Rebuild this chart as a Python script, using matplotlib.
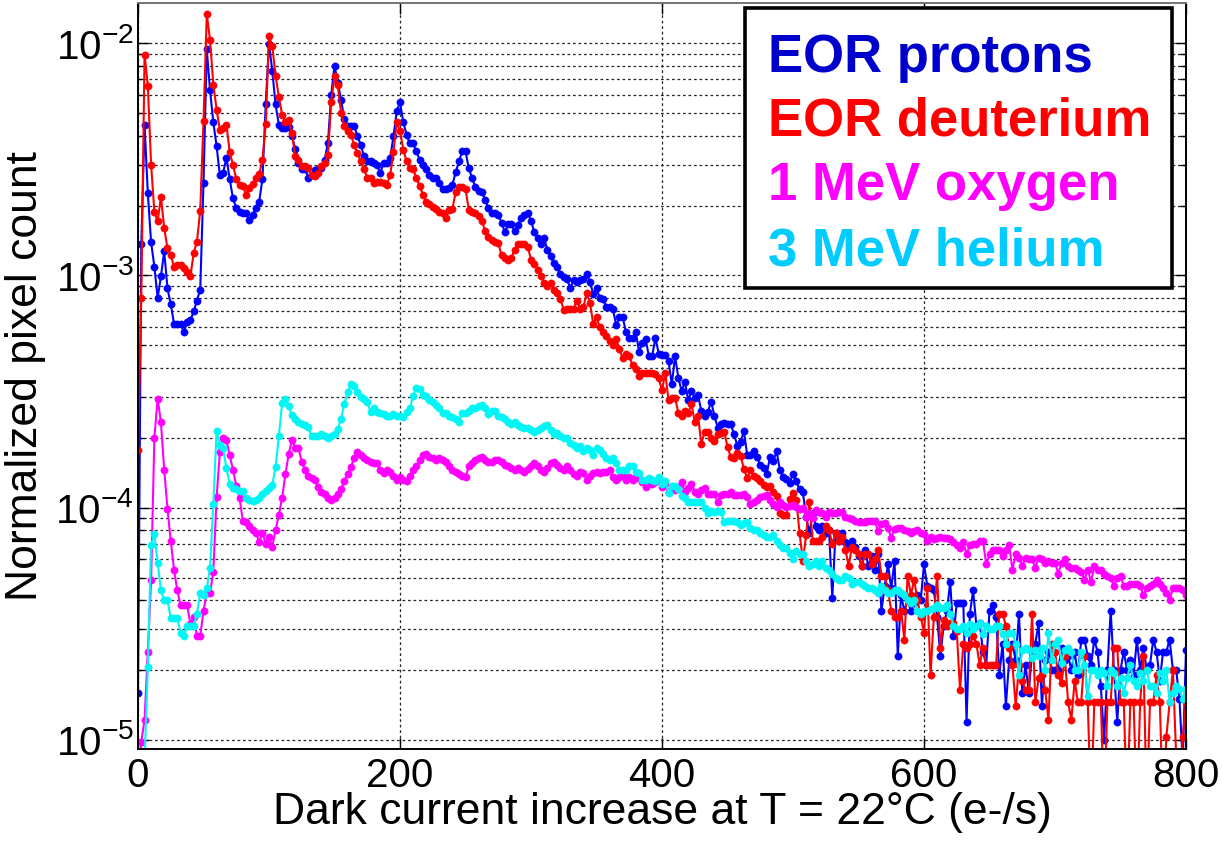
import numpy as np
import matplotlib
matplotlib.use("Agg")
import matplotlib.pyplot as plt
from matplotlib.patches import Rectangle

# -----------------------------
# Fonts
# -----------------------------
plt.rcParams['font.family'] = ['Liberation Sans', 'DejaVu Sans']
plt.rcParams['mathtext.fontset'] = 'custom'
plt.rcParams['mathtext.rm'] = 'Liberation Sans'
plt.rcParams['mathtext.it'] = 'Liberation Sans:italic'
plt.rcParams['mathtext.bf'] = 'Liberation Sans:bold'

# -----------------------------
# Data (pixel counts in units of 1e-5, bins of 2.5 e-/s from 0 to 800)
# -----------------------------
SCALE = 1e-5
dark_current = np.linspace(0, 800, 321)

eor_protons = [
    1.6, 136, 446, 226, 139, 109, 80, 99, 127, 88,
    75, 62, 62, 62, 57, 63, 64, 70, 78, 87,
    250, 940, 627, 457, 360, 270, 277, 321, 260, 215,
    195, 188, 186, 186, 174, 183, 196, 208, 260, 545,
    997, 760, 545, 446, 430, 432, 435, 400, 350, 306,
    288, 288, 264, 270, 285, 288, 290, 315, 373, 600,
    801, 675, 572, 470, 442, 442, 442, 397, 366, 326,
    310, 310, 305, 300, 277, 304, 304, 321, 397, 510,
    557, 457, 404, 370, 370, 342, 315, 300, 286, 272,
    263, 264, 250, 235, 235, 239, 246, 278, 310, 342,
    342, 290, 263, 240, 232, 228, 212, 195, 186, 185,
    183, 169, 154, 166, 166, 155, 165, 177, 183, 186,
    172, 154, 145, 136, 145, 129, 121, 113, 109, 101,
    98, 97, 88, 96, 94, 96, 97, 101, 94, 83,
    88, 80, 79, 73, 73, 72, 61, 66, 66, 57,
    54, 54, 57, 47, 51, 53, 45, 45, 54, 46,
    45.6, 45.6, 42.7, 34, 44.9, 36.2, 31.8, 34.9, 29, 31.8,
    29.8, 30.5, 26.1, 24.9, 25.9, 28.6, 24.9, 22.1, 22.9, 23.1,
    22.9, 22.9, 20.7, 18.5, 19.2, 21.4, 16.9, 16.9, 17.5, 16.5,
    15.3, 14.8, 14.0, 16.6, 15.9, 17.5, 14.5, 13.6, 13.3, 12.8,
    13.9, 13.0, 12.0, 11.7, 9.1, 7.8, 9.5, 8.3, 8.0, 8.3,
    7.8, 8.0, 4.1, 7.8, 7.2, 7.8, 7.1, 6.8, 7.2, 6.8,
    6.2, 5.6, 6.6, 5.6, 6.2, 5.4, 6.3, 3.6, 4.6, 5.7,
    4.5, 5.9, 2.3, 4.2, 3.6, 4.0, 3.6, 3.9, 4.2, 4.0,
    5.7, 4.6, 4.5, 4.4, 3.4, 2.3, 3.1, 3.6, 4.8, 2.8,
    3.9, 3.9, 3.9, 1.2, 3.5, 4.4, 3.1, 3.2, 2.4, 2.1,
    3.6, 3.8, 3.4, 1.9, 2.6, 1.4, 2.2, 2.6, 2.2, 3.5,
    1.6, 2.1, 1.6, 2.4, 2.6, 3.2, 1.4, 2.2, 2.4, 2.0,
    2.0, 2.0, 2.5, 2.2, 2.3, 2.0, 2.4, 1.9, 2.7, 2.7,
    2.3, 2.1, 2.7, 2.4, 1.7, 1.0, 2.0, 3.6, 2.0, 1.2,
    2.0, 2.4, 2.0, 2.2, 1.9, 2.7, 2.0, 2.5, 2.0, 2.1,
    2.7, 2.4, 1.8, 2.4, 2.4, 2.7, 2.0, 2.0, 1.5, 0.8,
    2.45,
]

eor_deuterium = [
    17.7, 80, 894, 657, 300, 188, 171, 218, 160, 131,
    122, 109, 111, 111, 108, 103, 99, 125, 140, 190,
    462, 1333, 1030, 664, 518, 422, 430, 446, 339, 300,
    260, 246, 243, 223, 239, 248, 264, 273, 313, 450,
    1071, 971, 726, 588, 493, 460, 465, 409, 328, 313,
    296, 296, 290, 271, 268, 275, 295, 306, 330, 560,
    721, 660, 500, 442, 420, 404, 366, 338, 310, 286,
    264, 264, 250, 252, 252, 250, 246, 271, 340, 457,
    420, 348, 310, 291, 286, 263, 242, 223, 208, 204,
    198, 194, 188, 186, 177, 192, 194, 228, 241, 240,
    236, 192, 188, 186, 180, 172, 155, 146, 142, 140,
    138, 122, 119, 117, 119, 129, 136, 137, 136, 133,
    117, 112, 106, 99, 93, 90, 93, 87, 84, 79,
    71, 72, 72, 72, 78, 72, 73, 84, 76, 62,
    66, 60, 57, 55, 52, 50, 53, 48, 44, 46,
    45, 41, 39.5, 37, 38, 38, 38, 38, 37.8, 36,
    32, 38, 29, 29.7, 29.7, 25.6, 24.9, 26, 25.6, 28,
    23.3, 24.9, 18.8, 21.2, 21.2, 20, 19.3, 20.7, 21, 21.2,
    18.3, 16.5, 16.3, 17.2, 16.7, 14.7, 13.4, 14.5, 13.7, 13.4,
    13.0, 12.5, 12.3, 12.4, 11.7, 11.2, 9.5, 9.3, 9.3, 10.9,
    11.6, 10.8, 7.8, 5.9, 7.6, 10.6, 7.2, 7.2, 7.2, 7.5,
    8.3, 8.0, 7.0, 7.8, 7.2, 7.5, 6.6, 5.6, 6.8, 6.6,
    6.3, 5.6, 6.3, 6.3, 5.7, 6.0, 6.6, 5.1, 5.1, 4.4,
    3.6, 3.4, 3.4, 3.6, 2.7, 5.1, 4.2, 4.9, 4.0, 3.4,
    2.9, 4.5, 1.9, 3.4, 5.1, 2.5, 3.3, 3.1, 3.2, 3.2,
    2.95, 1.64, 2.6, 2.5, 2.6, 2.8, 2.6, 2.1, 2.5, 2.1,
    2.1, 2.1, 2.1, 3.5, 3.5, 3.1, 2.5, 2.1, 1.4, 2.1,
    1.8, 1.64, 1.64, 3.5, 1.45, 1.85, 1.9, 1.64, 1.22, 2.6,
    2.4, 1.9, 1.75, 2.3, 1.45, 1.22, 1.8, 1.45, 1.45, 2.3,
    1.45, 0.5, 1.45, 1.45, 1.45, 0.5, 1.45, 1.45, 2.5, 2.5,
    1.45, 1.45, 0.5, 1.45, 1.45, 0.5, 1.45, 2.3, 0.5, 1.45,
    1.45, 1.9, 1.45, 0.5, 1.03, 1.45, 2.0, 0.85, 0.5, 1.03,
    1.45,
]

oxygen_1mev = [
    0.5, 0.98, 1.22, 2.4, 4.9, 20, 29.5, 23.3, 14.6, 9.9,
    7.2, 5.4, 4.4, 3.8, 3.8, 3.8, 3.15, 3.4, 2.8, 2.8,
    3.6, 4.3, 4.3, 5.3, 11.1, 17.4, 20, 19.6, 16.8, 14.6,
    12.4, 11, 8.8, 8.7, 8.3, 8.0, 7.8, 7.1, 7.8, 7.0,
    7.5, 6.8, 8.0, 9.3, 11, 13.9, 17, 19.6, 18, 18,
    15.8, 14.5, 13.7, 13.4, 13.2, 12.3, 11.7, 11.4, 11, 10.8,
    11, 11.5, 12, 13, 14, 15, 16.3, 17.4, 16.8, 16.3,
    16.1, 15.8, 15.6, 15.6, 14.5, 14.1, 14.5, 14.3, 13.7, 13.2,
    13.5, 13.2, 13.0, 13.7, 14.5, 15.1, 16.1, 16.8, 17.0, 16.5,
    16.3, 16.1, 16.3, 16.1, 15.8, 15.1, 14.5, 14.3, 13.9, 13.7,
    13.5, 15.1, 15.6, 16.1, 16.3, 16.5, 16.1, 15.8, 15.8, 16.1,
    16.1, 15.8, 15.3, 15.1, 14.8, 14.5, 14.8, 14.5, 14.3, 14.7,
    15.1, 15.6, 15.1, 14.5, 14.3, 14.8, 15.6, 15.8, 15.3, 14.8,
    14.5, 15.1, 14.5, 13.9, 13.7, 14.3, 14.1, 13.2, 13.7, 14.1,
    14.3, 14.1, 14.3, 14.3, 14.5, 13.5, 13.2, 13.5, 13.7, 13.2,
    13.5, 13.2, 13.5, 13.4, 12.9, 12.3, 12.7, 12.7, 12.9, 13.2,
    12.3, 12.6, 11.7, 12.0, 11.9, 12.3, 12.9, 11.7, 12.2, 12.7,
    11.7, 11.5, 11.9, 12.1, 11.5, 11.5, 11.5, 10.6, 11.3, 11.4,
    11.5, 11.7, 11.3, 11.3, 11.3, 11.5, 11.1, 10.4, 10.6, 10.8,
    11.1, 11.2, 11.3, 10.8, 10.4, 10.1, 10.6, 10.3, 10.1, 10.2,
    10.3, 10.1, 9.9, 10.0, 9.1, 9.5, 9.0, 9.8, 9.6, 9.5,
    9.1, 9.6, 9.5, 9.5, 9.6, 9.6, 9.1, 9.0, 8.9, 8.8,
    8.7, 8.7, 8.7, 8.8, 8.8, 8.8, 7.9, 8.5, 8.6, 8.2,
    7.4, 8.1, 8.2, 8.2, 8.0, 7.9, 7.8, 7.9, 8.0, 7.8,
    7.7, 7.2, 7.5, 7.3, 7.4, 7.5, 7.4, 7.4, 7.3, 7.1,
    6.9, 6.7, 7.1, 6.3, 6.9, 7.0, 7.0, 7.2, 7.2, 5.7,
    6.3, 6.6, 6.6, 6.6, 6.2, 6.6, 6.9, 5.4, 6.3, 6.1,
    5.6, 6.1, 6.0, 6.0, 5.5, 6.1, 6.0, 5.8, 5.9, 5.8,
    5.8, 5.2, 5.8, 6.0, 5.6, 5.5, 5.5, 5.4, 5.3, 4.9,
    5.4, 4.8, 5.6, 5.4, 5.4, 5.2, 5.1, 5.0, 4.6, 5.0,
    5.1, 4.6, 4.6, 4.7, 4.7, 4.7, 4.6, 4.2, 4.5, 4.6,
    4.7, 4.9, 4.7, 4.5, 4.3, 4.0, 4.5, 4.5, 4.5, 4.4,
    4.2,
]

helium_3mev = [
    0.5, 0.5, 0.8, 2.06, 6.9, 7.7, 5.8, 4.4, 4.0, 4.0,
    3.35, 3.35, 3.35, 2.9, 2.8, 3.1, 3.1, 3.1, 3.5, 4.3,
    4.2, 4.5, 5.5, 10.4, 21.4, 18.7, 18, 14.8, 12.7, 12.2,
    12, 11.8, 11.8, 11, 10.8, 10.7, 10.8, 11, 11.4, 11.8,
    12.1, 12.5, 15, 20.3, 28.1, 29.5, 27.4, 25, 24, 23.3,
    23, 22.7, 22.2, 20.3, 20.3, 20.3, 20.7, 20.3, 20, 20.3,
    20.7, 21.9, 24.2, 28, 31.4, 34, 33.5, 31.4, 30, 29.5,
    28.5, 25.9, 26.8, 25.9, 25.6, 25.2, 24.9, 24.9, 25.2, 24.9,
    24.9, 24.5, 25.9, 26.8, 30.3, 32.8, 32.3, 30.5, 30.3, 29.2,
    28.5, 27.6, 27, 25.6, 25.6, 24.9, 24.5, 24, 23.3, 25.6,
    25.6, 26.1, 26.8, 27, 27.3, 27.6, 27, 25.2, 26, 26,
    24.9, 24.5, 24, 23.3, 23, 23.3, 22.8, 22.3, 22.1, 22.1,
    21.6, 21.2, 21.6, 22.1, 22.5, 22.8, 21.6, 20.7, 21, 20.3,
    20, 20, 19, 18.7, 18, 18.4, 17.5, 18, 17.7, 16.8,
    18, 17.7, 17.1, 16.3, 16.1, 16.3, 15.5, 14.5, 14.5, 14.5,
    15.1, 15.1, 14.3, 14.1, 13.2, 13.2, 13.4, 13.2, 13, 13.5,
    12.6, 13, 11.6, 12.4, 12.4, 12, 11.2, 11, 10.6, 10.6,
    10.6, 10.6, 10.6, 10, 9.5, 9.7, 9.6, 9.7, 9.6, 8.7,
    8.8, 8.8, 8.8, 8.7, 8.4, 8.6, 8.7, 8.2, 8.0, 8.0,
    7.8, 7.6, 7.5, 7.5, 7.6, 7.2, 6.9, 6.7, 6.7, 6.4,
    6.0, 6.5, 6.3, 6.3, 5.9, 5.6, 5.7, 5.9, 5.6, 5.9,
    5.5, 5.4, 5.2, 5.0, 4.9, 4.9, 5.1, 5.0, 4.7, 4.8,
    4.8, 4.7, 4.6, 4.5, 4.5, 4.4, 4.3, 4.6, 4.4, 4.3,
    4.3, 4.4, 4.4, 4.3, 4.2, 4.0, 3.9, 4.0, 3.6, 3.5,
    3.6, 3.6, 3.65, 3.7, 3.8, 3.7, 3.7, 3.8, 3.5, 3.1,
    3.0, 3.0, 3.1, 2.9, 3.15, 3.0, 3.1, 3.2, 2.85, 3.1,
    3.0, 3.0, 3.1, 3.1, 2.85, 2.6, 2.9, 2.9, 2.6, 1.9,
    2.45, 2.5, 2.45, 2.25, 2.45, 2.3, 2.5, 2.0, 2.9, 2.2,
    2.6, 2.7, 2.15, 2.45, 2.5, 2.4, 2.0, 2.0, 2.4, 2.1,
    1.55, 2.0, 2.0, 1.9, 2.0, 1.95, 1.7, 2.0, 1.95, 1.7,
    1.85, 1.6, 1.85, 2.1, 1.8, 1.7, 1.95, 1.8, 2.0, 1.7,
    1.7, 1.6, 1.95, 1.8, 2.0, 1.45, 1.6, 1.7, 1.65, 1.5,
    1.65,
]

series = [
    ("EOR protons", eor_protons, '#0000FF', '#0000CC'),
    ("EOR deuterium", eor_deuterium, '#FF0000', '#FF0000'),
    ("1 MeV oxygen", oxygen_1mev, '#FF00FF', '#FF00FF'),
    ("3 MeV helium", helium_3mev, '#00F5F5', '#00CCFF'),
]

x_ticks = [0, 200, 400, 600, 800]
y_ticks = [1e-5, 1e-4, 1e-3, 1e-2]
y_tick_labels = [r'$\mathregular{10^{-5}}$', r'$\mathregular{10^{-4}}$',
                 r'$\mathregular{10^{-3}}$', r'$\mathregular{10^{-2}}$']

# -----------------------------
# Plot
# -----------------------------
W, H = 1222, 842
fig = plt.figure(figsize=(W / 100, H / 100), dpi=100)
ax = fig.add_axes([138 / W, 1 - 749 / H, 1048 / W, 746 / H])

for name, vals, line_color, _ in series:
    ax.plot(dark_current, np.array(vals) * SCALE, '-o', color=line_color,
            lw=1.5, ms=5.2, mec=line_color, mew=0.4)

ax.set_yscale('log')
ax.set_xlim(0, 800)
ax.set_ylim(9.14e-6, 1.49e-2)

ax.set_xticks(x_ticks)
ax.set_yticks(y_ticks)
ax.set_yticklabels(y_tick_labels)

grid_style = dict(color='0.15', linestyle=(0, (2.2, 2.2)), linewidth=0.9)
ax.grid(True, which='major', axis='x', **grid_style)
ax.grid(True, which='both', axis='y', **grid_style)

ax.tick_params(which='both', direction='in', top=True, right=True,
               labelsize=29, width=1.0)
ax.tick_params(axis='x', which='major', length=8, pad=6)
ax.tick_params(axis='y', which='major', length=8, pad=3)
ax.tick_params(axis='y', which='minor', length=4)

for side in ['left', 'bottom', 'right']:
    ax.spines[side].set_color('black')
    ax.spines[side].set_linewidth(1.4)
ax.spines['top'].set_color('0.45')
ax.spines['top'].set_linewidth(1.4)

ax.set_xlabel('Dark current increase at T = 22°C (e-/s)', fontsize=32)
ax.set_ylabel('Normalized pixel count', fontsize=32)
ax.xaxis.set_label_coords(0.5, -0.058)
ax.yaxis.set_label_coords(-0.088, 0.5)

# legend box drawn as separate texts
fig.add_artist(Rectangle((745 / W, 1 - 288 / H), 427 / W, 280 / H,
                         transform=fig.transFigure, facecolor='white',
                         edgecolor='black', linewidth=2.6, zorder=5))
baselines = [72, 135, 200, 265]
for (name, _, _, text_color), yb in zip(series, baselines):
    fig.text(768 / W, 1 - yb / H, name, color=text_color, fontsize=38,
             fontweight='bold', va='baseline', ha='left', zorder=6)

fig.savefig('out.png', dpi=100)
